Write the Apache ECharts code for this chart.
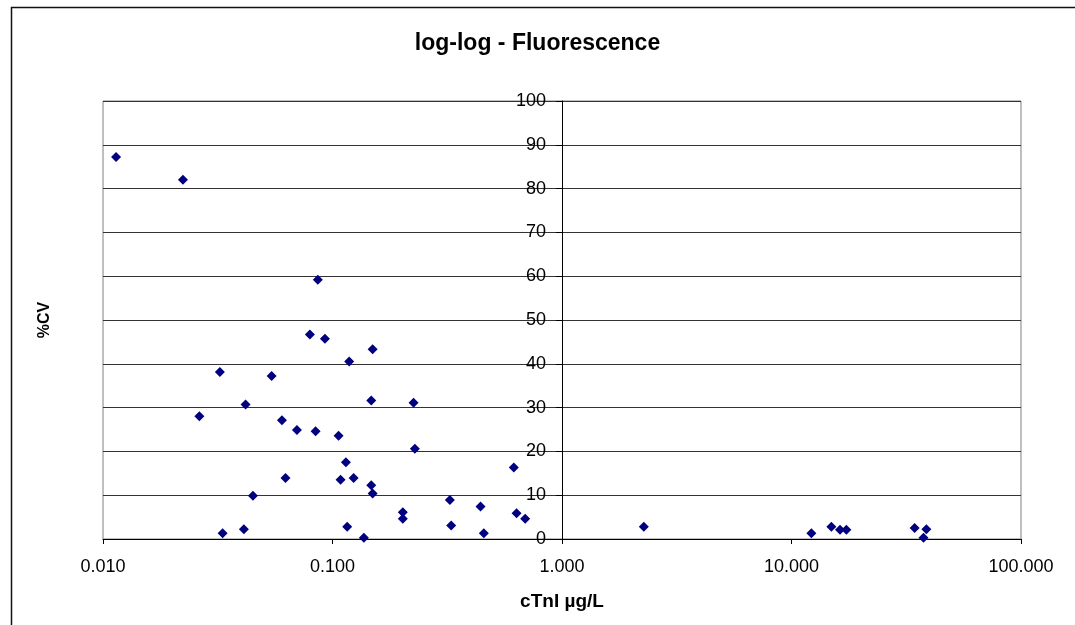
<!DOCTYPE html>
<html>
<head>
<meta charset="utf-8">
<script src="https://cdn.jsdelivr.net/npm/echarts@6/dist/echarts.min.js"></script>
<style>html,body{margin:0;padding:0;background:#fff;}#c{width:1075px;height:625px;}</style>
</head>
<body>
<div id="c"></div>
<script>
// cTnI concentration (µg/L)
const cTnI = [0.0114, 0.0223, 0.0863, 0.0797, 0.0927, 0.1496, 0.1182, 0.0323, 0.0543, 0.1475,
  0.0418, 0.0263, 0.0602, 0.070, 0.0844, 0.1063, 0.1144, 0.0624, 0.1084, 0.1236,
  0.1475, 0.1496, 0.045, 0.0332, 0.0411, 0.1159, 0.137, 0.2255, 0.2285, 0.6166,
  0.3246, 0.2025, 0.2025, 0.4416, 0.634, 0.691, 0.3289, 0.4564, 2.272, 12.21,
  14.92, 16.27, 17.34, 34.4, 38.7, 37.6];
// %CV
const cv = [87.2, 82.0, 59.2, 46.7, 45.7, 43.3, 40.5, 38.1, 37.2, 31.6,
  30.7, 28.0, 27.1, 24.9, 24.6, 23.6, 17.5, 13.9, 13.5, 13.9,
  12.3, 10.4, 9.9, 1.3, 2.2, 2.8, 0.3, 31.1, 20.6, 16.3,
  8.9, 6.1, 4.6, 7.4, 5.9, 4.6, 3.1, 1.3, 2.8, 1.3,
  2.8, 2.1, 2.1, 2.5, 2.2, 0.3];
const xTickLabels = ['0.010', '0.100', '1.000', '10.000', '100.000'];
const yTickLabels = ['0', '10', '20', '30', '40', '50', '60', '70', '80', '90', '100'];

const FONT = "'Liberation Sans', Arial, sans-serif";
const points = cTnI.map((x, i) => [x, cv[i]]);

const chart = echarts.init(document.getElementById('c'));
chart.setOption({
  animation: false,
  backgroundColor: '#fff',
  title: {
    text: 'log-log - Fluorescence',
    left: 'center',
    top: 27,
    textStyle: { fontFamily: FONT, fontSize: 23, fontWeight: 'bold', color: '#000' }
  },
  grid: {
    left: 103, right: 54, top: 101, bottom: 86,
    show: true, borderColor: '#808080', borderWidth: 1, backgroundColor: 'transparent'
  },
  xAxis: {
    type: 'log', logBase: 10, min: 0.01, max: 100,
    name: 'cTnI µg/L', nameLocation: 'middle', nameGap: 53,
    nameTextStyle: { fontFamily: FONT, fontSize: 19, fontWeight: 'bold', color: '#000' },
    axisLine: { show: true, lineStyle: { color: '#000', width: 1 } },
    axisTick: { show: true, length: 5, lineStyle: { color: '#000' } },
    minorTick: { show: false },
    splitLine: { show: false },
    axisLabel: {
      fontFamily: FONT, fontSize: 18, color: '#000', margin: 19,
      formatter: v => xTickLabels[Math.round(Math.log10(v)) + 2]
    }
  },
  yAxis: {
    type: 'value', min: 0, max: 100, interval: 10,
    position: 'left', offset: -459,
    axisLine: { show: true, onZero: false, lineStyle: { color: '#000', width: 1 } },
    axisTick: { show: true, length: 6, lineStyle: { color: '#000' } },
    splitLine: { show: true, lineStyle: { color: '#333', width: 1 } },
    axisLabel: {
      fontFamily: FONT, fontSize: 18, color: '#000', margin: 16,
      formatter: v => yTickLabels[Math.round(v / 10)]
    }
  },
  graphic: [
    {
      type: 'rect', silent: true, z: -1,
      shape: { x: 11.5, y: 7.5, width: 1200, height: 800 },
      style: { fill: 'none', stroke: '#111', lineWidth: 1.5 }
    },
    {
      type: 'text', x: 45, y: 320, rotation: Math.PI / 2,
      style: {
        text: '%CV', fontFamily: FONT, fontSize: 16, fontWeight: 'bold',
        fill: '#000', align: 'center', verticalAlign: 'middle'
      }
    }
  ],
  series: [{
    type: 'scatter',
    data: points,
    symbol: 'diamond',
    symbolSize: 10,
    itemStyle: { color: '#000080', opacity: 1 },
    z: 5
  }]
});
</script>
</body>
</html>
